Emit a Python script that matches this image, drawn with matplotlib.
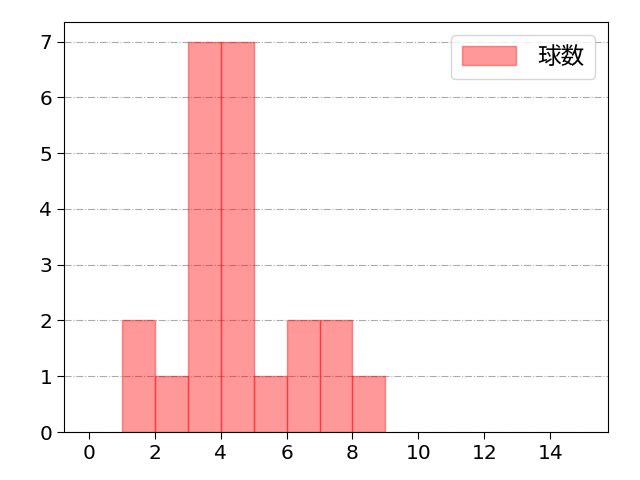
import numpy as np
import matplotlib
matplotlib.use("Agg")
import matplotlib.pyplot as plt

plt.rcParams['font.family'] = ['DejaVu Sans', 'Noto Sans CJK JP']

bin_edges = [1, 2, 3, 4, 5, 6, 7, 8, 9]
counts = [2, 1, 7, 7, 1, 2, 2, 1]
label = "球数"

fig, ax = plt.subplots(figsize=(6.4, 4.8), dpi=100)
fig.subplots_adjust(left=0.1, right=0.95, top=0.954, bottom=0.1)

ax.hist(bin_edges[:-1], bins=bin_edges, weights=counts,
        color="red", alpha=0.4, edgecolor="red", linewidth=1, label=label)

ax.set_xlim(-0.75, 15.75)
ax.set_ylim(0, 7.35)
ax.set_xticks(range(0, 15, 2))
ax.set_yticks(range(0, 8))
ax.tick_params(labelsize=14.5, length=5)
ax.grid(axis="y", linestyle="-.", color="#aaaaaa", linewidth=0.8)
ax.set_axisbelow(True)
ax.legend(loc="upper right", prop={"family": ["Noto Sans CJK JP"], "size": 17},
          handlelength=2.3, handleheight=0.85, handletextpad=0.9,
          borderpad=0.45, borderaxespad=0.55)

fig.savefig("out.png")
